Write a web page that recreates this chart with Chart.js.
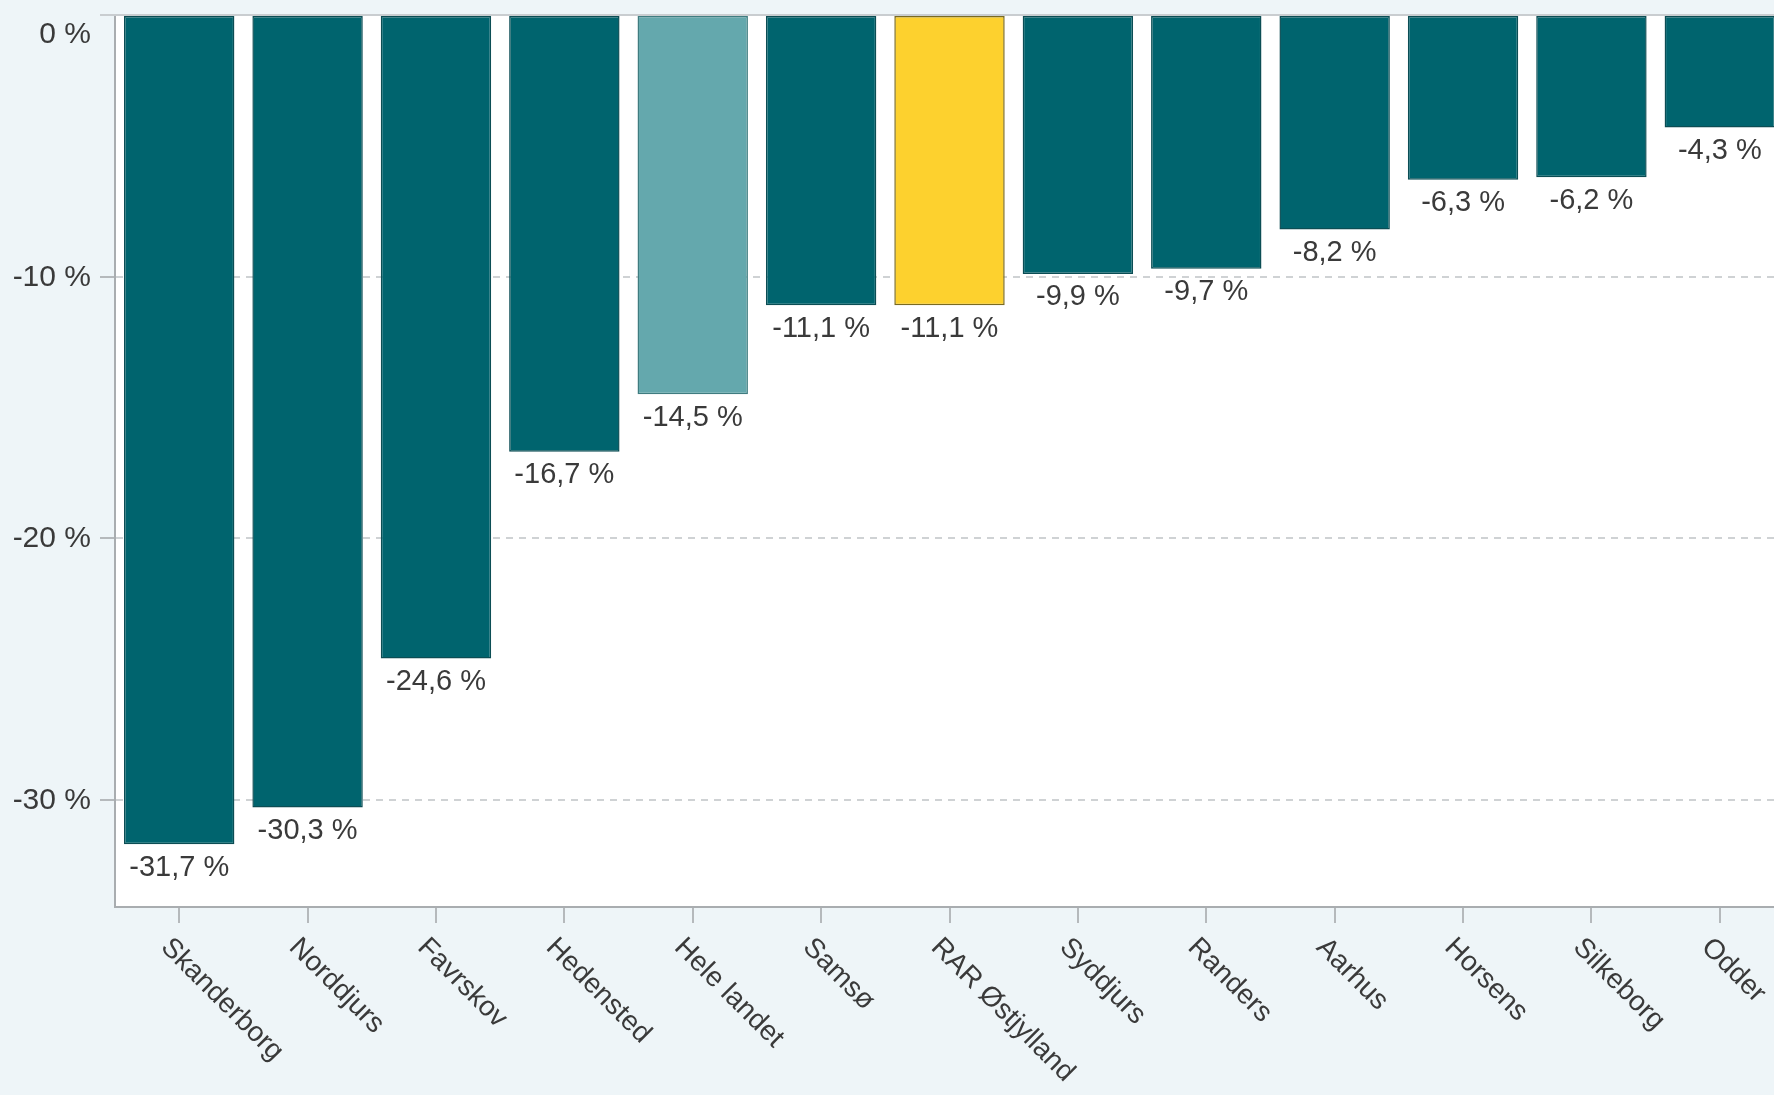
<!DOCTYPE html>
<html>
<head>
<meta charset="utf-8">
<script src="https://cdn.jsdelivr.net/npm/chart.js@4.4.0/dist/chart.umd.min.js"></script>
<style>
html, body { margin: 0; padding: 0; background: #eef5f8; overflow: hidden; }
#wrap { width: 1784px; height: 1095px; position: relative; }
</style>
</head>
<body>
<div id="wrap"><canvas id="changeChart"></canvas></div>
<script>
// ---- data ----
const areas = ["Skanderborg", "Norddjurs", "Favrskov", "Hedensted", "Hele landet", "Samsø", "RAR Østjylland", "Syddjurs", "Randers", "Aarhus", "Horsens", "Silkeborg", "Odder"];
const changePct = [-31.7, -30.3, -24.6, -16.7, -14.5, -11.1, -11.1, -9.9, -9.7, -8.2, -6.3, -6.2, -4.3];
const yTicks = [0, -10, -20, -30];

const TEAL = "#00646e";
const barColors = areas.map(a => a === "Hele landet" ? "#64a8ad" : (a === "RAR Østjylland" ? "#fdd12e" : TEAL));
const barBorders = areas.map(a => a === "Hele landet" ? "#3f7c80" : (a === "RAR Østjylland" ? "#7a6a20" : "#0b4d54"));

const fmtVal = v => v.toFixed(1).replace(".", ",") + " %";
const FONT = "'Liberation Sans', Arial, sans-serif";

// ---- plugins ----
const plotBg = {
    id: "plotBg",
    beforeDraw(chart) {
        const a = chart.chartArea, ctx = chart.ctx;
        ctx.save();
        ctx.fillStyle = "#ffffff";
        ctx.fillRect(a.left, a.top, a.right - a.left, a.bottom - a.top);
        ctx.restore();
    },
    afterDatasetsDraw(chart) {
        const ctx = chart.ctx, a = chart.chartArea;
        const y0 = chart.scales.y.getPixelForValue(0);
        ctx.save();
        ctx.strokeStyle = "#c9cdd0";
        ctx.lineWidth = 2;
        ctx.beginPath();
        ctx.moveTo(a.left - 15, y0);
        ctx.lineTo(a.right, y0);
        ctx.stroke();
        ctx.restore();
    }
};

const valueLabels = {
    id: "valueLabels",
    afterDatasetsDraw(chart) {
        const ctx = chart.ctx;
        const meta = chart.getDatasetMeta(0);
        ctx.save();
        ctx.font = "29px " + FONT;
        ctx.fillStyle = "#3a3a3a";
        ctx.textAlign = "center";
        ctx.textBaseline = "top";
        meta.data.forEach((bar, i) => {
            ctx.fillText(fmtVal(changePct[i]), bar.x, bar.y + 9);
        });
        ctx.restore();
    }
};

const axisLabels = {
    id: "axisLabels",
    afterDraw(chart) {
        const ctx = chart.ctx, x = chart.scales.x, y = chart.scales.y, a = chart.chartArea;
        ctx.save();
        ctx.fillStyle = "#3a3a3a";
        // y labels (0 % sits below its tick, as in the original)
        ctx.font = "30px " + FONT;
        ctx.textAlign = "right";
        ctx.textBaseline = "middle";
        yTicks.forEach(v => {
            const py = y.getPixelForValue(v) + (v === 0 ? 20 : 1);
            ctx.fillText(v + " %", a.left - 24, py);
        });
        // slanted x labels
        ctx.font = "28px " + FONT;
        ctx.textAlign = "left";
        areas.forEach((name, i) => {
            const px = x.getPixelForTick(i);
            ctx.save();
            ctx.translate(px - 14, a.bottom + 36);
            ctx.rotate(Math.PI / 4);
            ctx.fillText(name, 0, 0);
            ctx.restore();
        });
        ctx.restore();
    }
};

// ---- chart ----
const ctxChange = document.getElementById("changeChart").getContext("2d");
new Chart(ctxChange, {
    type: "bar",
    data: {
        labels: areas,
        datasets: [{
            data: changePct,
            backgroundColor: barColors,
            borderColor: barBorders,
            borderWidth: 1.5,
            borderSkipped: false,
            categoryPercentage: 1,
            barPercentage: 0.86
        }]
    },
    options: {
        responsive: true,
        maintainAspectRatio: false,
        animation: false,
        layout: { padding: { top: 15, bottom: 172, right: 0, left: 100 } },
        plugins: {
            legend: { display: false },
            tooltip: { enabled: false }
        },
        scales: {
            x: {
                grid: { display: true, offset: false, drawOnChartArea: false, drawTicks: true, tickLength: 16, color: "#b5b9bc", lineWidth: 2 },
                border: { display: true, color: "#a9adb0", width: 2 },
                ticks: { display: false }
            },
            y: {
                min: -34.1,
                max: 0,
                afterBuildTicks(scale) {
                    scale.ticks = yTicks.map(v => ({ value: v }));
                },
                grid: {
                    color: ctx => ctx.tick && ctx.tick.value === 0 ? "rgba(0,0,0,0)" : "#cfd2d4",
                    lineWidth: 2,
                    tickLength: 15,
                    tickColor: "#b5b9bc"
                },
                border: { display: true, color: "#a9adb0", width: 2, dash: [7, 6] },
                ticks: { display: false }
            }
        }
    },
    plugins: [plotBg, valueLabels, axisLabels]
});
</script>
</body>
</html>
